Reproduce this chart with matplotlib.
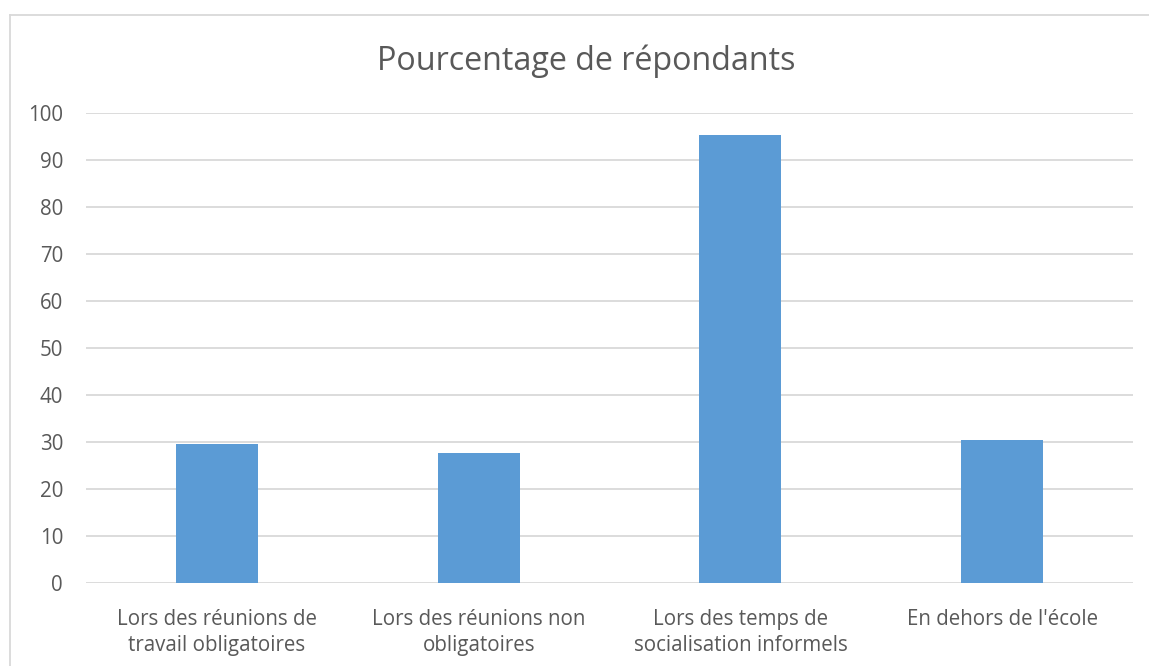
import matplotlib
matplotlib.use("Agg")
import matplotlib.pyplot as plt
from matplotlib.lines import Line2D

categories = ["Lors des réunions de\ntravail obligatoires",
              "Lors des réunions non\nobligatoires",
              "Lors des temps de\nsocialisation informels",
              "En dehors de l'école"]
values = [29.5, 27.7, 95.3, 30.4]
yticks = [0, 10, 20, 30, 40, 50, 60, 70, 80, 90, 100]
title = "Pourcentage de répondants"

plt.rcParams['font.family'] = ['Open Sans', 'DejaVu Sans']
txt = '#595959'
grid = '#d9d9d9'

W, H = 1149, 666
fig = plt.figure(figsize=(W / 100, H / 100), dpi=100)
fig.add_artist(Line2D([9.5 / W, 9.5 / W], [0, 1 - 14.5 / H], transform=fig.transFigure,
                      color='#d9d9d9', linewidth=1.3))
fig.add_artist(Line2D([9.5 / W, 1], [1 - 14.5 / H, 1 - 14.5 / H], transform=fig.transFigure,
                      color='#d9d9d9', linewidth=1.3))
ax = fig.add_axes([86 / W, 1 - 583 / H, (1133 - 86) / W, (583 - 113) / H])
x = list(range(len(categories)))
ax.bar(x, values, width=0.313, color='#5b9bd5', zorder=3)
ax.set_xlim(-0.5, len(categories) - 0.5)
ax.set_ylim(0, 100)
ax.set_yticks(yticks)
ax.set_yticklabels([str(v) for v in yticks])
ax.set_xticks(x)
ax.set_xticklabels(categories, linespacing=1.35)
for y in yticks:
    ax.axhline(y, color=grid, linewidth=1.3, zorder=1)
for s in ax.spines.values():
    s.set_visible(False)
ax.tick_params(axis='both', length=0, colors=txt, labelsize=14.8)
ax.tick_params(axis='y', pad=16.5)
ax.tick_params(axis='x', pad=18.5)
fig.text(586.5 / W, 1 - 61 / H, title, ha='center', va='center', fontsize=23.2, color=txt)
fig.savefig('out.png', dpi=100)
